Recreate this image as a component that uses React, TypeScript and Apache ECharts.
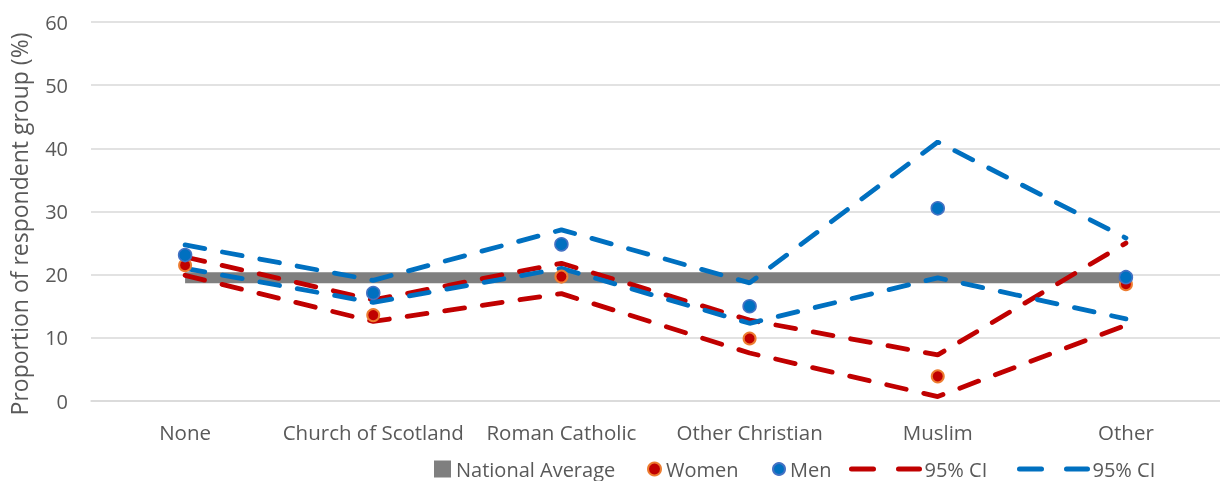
import React, { useEffect, useRef } from "react";
import * as echarts from "echarts";

// Religious group categories along the x axis
const categories = [
  "None",
  "Church of Scotland",
  "Roman Catholic",
  "Other Christian",
  "Muslim",
  "Other",
];

// Percentages of each respondent group
const nationalAverage = [19.5, 19.5, 19.5, 19.5, 19.5, 19.5];
const women = [21.5, 13.6, 19.7, 9.9, 3.9, 18.5];
const men = [23.1, 17.1, 24.8, 15.0, 30.5, 19.6];

// 95% confidence interval bounds
const womenUpper = [22.8, 16.0, 21.8, 12.8, 7.3, 25.0];
const womenLower = [19.9, 12.6, 17.0, 7.6, 0.7, 12.0];
const menUpper = [24.7, 19.1, 27.1, 18.7, 41.0, 25.8];
const menLower = [21.0, 15.6, 21.0, 12.3, 19.5, 13.0];

const yTicks = { min: 0, max: 60, interval: 10 };

const FONT = "'Open Sans', 'Noto Sans', sans-serif";
const TEXT = "#595959";
const GRID = "#D9D9D9";
const RED = "#C00000";
const ORANGE = "#ED7D31";
const BLUE = "#0070C0";
const GREY = "#7F7F7F";

export default function App() {
  const ref = useRef<HTMLDivElement>(null);

  useEffect(() => {
    if (!ref.current) return;
    const chart = echarts.init(ref.current, undefined, { renderer: "svg" });

    const legendText = {
      color: TEXT,
      fontFamily: FONT,
      fontSize: 20,
      lineHeight: 20,
    };
    const legendBase = {
      top: 459,
      padding: 0,
      selectedMode: false,
      textStyle: legendText,
    };
    const ciLegend = {
      ...legendBase,
      itemWidth: 68,
      itemHeight: 12,
      lineStyle: { type: [22, 25], width: 5, cap: "round" },
      itemStyle: { opacity: 0 },
      formatter: () => "95% CI",
    };

    const ciLine = (color: string) => ({
      color,
      width: 4.8,
      type: [20, 18] as number[],
      cap: "round" as const,
    });

    chart.setOption({
      animation: false,
      grid: { left: 91, top: 22, width: 1141, height: 379, containLabel: false },
      legend: [
        {
          ...legendBase,
          left: 434,
          itemWidth: 17,
          itemHeight: 17,
          data: [{ name: "National Average", icon: "rect" }],
        },
        {
          ...legendBase,
          left: 647,
          itemWidth: 13,
          itemHeight: 13,
          data: ["Women"],
        },
        {
          ...legendBase,
          left: 772,
          itemWidth: 12,
          itemHeight: 12,
          data: ["Men"],
        },
        { ...ciLegend, left: 849, data: ["Women 95% CI"] },
        { ...ciLegend, left: 1017, data: ["Men 95% CI"] },
      ],
      graphic: [
        {
          type: "text",
          x: 19,
          y: 224,
          rotation: Math.PI / 2,
          style: {
            text: "Proportion of respondent group (%)",
            fill: TEXT,
            font: `23px ${FONT}`,
            align: "center",
            verticalAlign: "middle",
          },
        },
      ],
      xAxis: {
        type: "category",
        data: categories,
        axisTick: { show: false },
        axisLine: { lineStyle: { color: GRID, width: 1.5 } },
        axisLabel: {
          interval: 0,
          color: TEXT,
          fontFamily: FONT,
          fontSize: 20.5,
          margin: 20,
        },
      },
      yAxis: {
        type: "value",
        min: yTicks.min,
        max: yTicks.max,
        interval: yTicks.interval,
        axisLine: { show: false },
        axisTick: { show: false },
        splitLine: { lineStyle: { color: GRID, width: 1.5 } },
        axisLabel: {
          color: TEXT,
          fontFamily: FONT,
          fontSize: 20,
          margin: 23,
        },
      },
      series: [
        {
          name: "National Average",
          type: "line",
          data: nationalAverage,
          symbol: "none",
          itemStyle: { color: GREY },
          lineStyle: { color: GREY, width: 11, cap: "butt" },
          z: 1,
        },
        {
          name: "Women 95% CI",
          type: "line",
          data: womenUpper,
          symbol: "none",
          itemStyle: { color: RED },
          lineStyle: ciLine(RED),
          z: 2,
        },
        {
          name: "Women 95% CI",
          type: "line",
          data: womenLower,
          symbol: "none",
          itemStyle: { color: RED },
          lineStyle: ciLine(RED),
          z: 2,
        },
        {
          name: "Men 95% CI",
          type: "line",
          data: menUpper,
          symbol: "none",
          itemStyle: { color: BLUE },
          lineStyle: ciLine(BLUE),
          z: 3,
        },
        {
          name: "Men 95% CI",
          type: "line",
          data: menLower,
          symbol: "none",
          itemStyle: { color: BLUE },
          lineStyle: ciLine(BLUE),
          z: 3,
        },
        {
          name: "Women",
          type: "scatter",
          data: women,
          symbol: "circle",
          symbolSize: 12,
          itemStyle: {
            color: RED,
            borderColor: ORANGE,
            borderWidth: 2,
            opacity: 1,
          },
          z: 4,
        },
        {
          name: "Men",
          type: "scatter",
          data: men,
          symbol: "circle",
          symbolSize: 13,
          itemStyle: {
            color: BLUE,
            borderColor: "#4472C4",
            borderWidth: 1.5,
            opacity: 1,
          },
          z: 5,
        },
      ],
    });

    return () => chart.dispose();
  }, []);

  return (
    <div
      ref={ref}
      style={{ position: "fixed", left: 0, top: 0, width: 1220, height: 481 }}
    />
  );
}
